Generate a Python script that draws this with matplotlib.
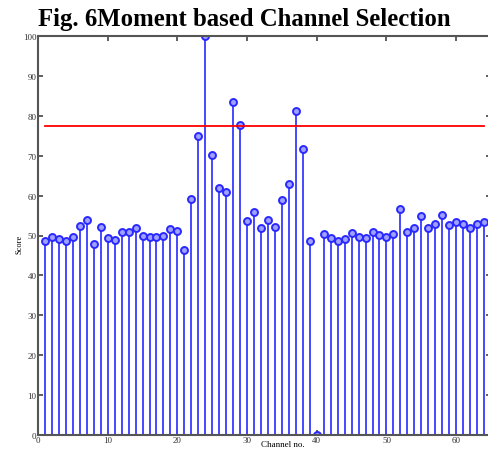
import numpy as np
import matplotlib.pyplot as plt

plt.rcParams['font.family'] = ['Liberation Serif', 'DejaVu Serif']

channels = np.arange(1, 65)
scores = [48.6, 49.6, 49.0, 48.7, 49.6, 52.3, 53.8, 47.9, 52.1, 49.4,
          48.8, 50.8, 51.0, 52.0, 50.0, 49.6, 49.6, 50.0, 51.6, 51.1,
          46.4, 59.2, 75.0, 100.0, 70.3, 61.9, 61.0, 83.4, 77.7, 53.6,
          55.8, 51.8, 53.8, 52.2, 58.9, 63.0, 81.2, 71.7, 48.7, 0.0,
          50.3, 49.4, 48.6, 49.1, 50.7, 49.5, 49.4, 51.0, 50.2, 49.7,
          50.5, 56.6, 50.9, 51.8, 54.9, 52.0, 52.9, 55.1, 52.6, 53.3,
          53.0, 51.8, 52.9, 53.5]
threshold = 77.5

fig = plt.figure(figsize=(4.89, 4.52), dpi=100)
ax = fig.add_axes([38 / 489, 1 - 436 / 452, 453 / 489, 399 / 452])

markerline, stemlines, baseline = ax.stem(channels, scores, basefmt=' ')
plt.setp(stemlines, color='#4848ff', linewidth=1.4)
plt.setp(markerline, color='#2828ff', marker='o', markersize=5,
         markerfacecolor='#a0a0ff', markeredgewidth=1.4)

ax.plot([channels[0], channels[-1]], [threshold, threshold], color='red', linewidth=1.3)

ax.set_xlim(0, 65)
ax.set_ylim(0, 100)
ax.set_xticks(np.arange(0, 61, 10))
ax.set_yticks(np.arange(0, 101, 10))
ax.tick_params(direction='in', top=True, right=True, labelsize=6.5, length=3.5,
               width=1.1, pad=1, colors='#333333')
for s in ax.spines.values():
    s.set_color('#555555')
    s.set_linewidth(1.5)

ax.set_xlabel('Channel no.', fontsize=6.5)
ax.xaxis.set_label_coords(0.54, -0.012)
ax.set_ylabel('Score', fontsize=6)
ax.yaxis.set_label_coords(-0.032, 0.48)

fig.text(0.5, 1 - 26 / 452, 'Fig. 6Moment based Channel Selection',
         ha='center', va='baseline', fontsize=17.8, fontweight='bold')

fig.savefig('out.png', dpi=100)
